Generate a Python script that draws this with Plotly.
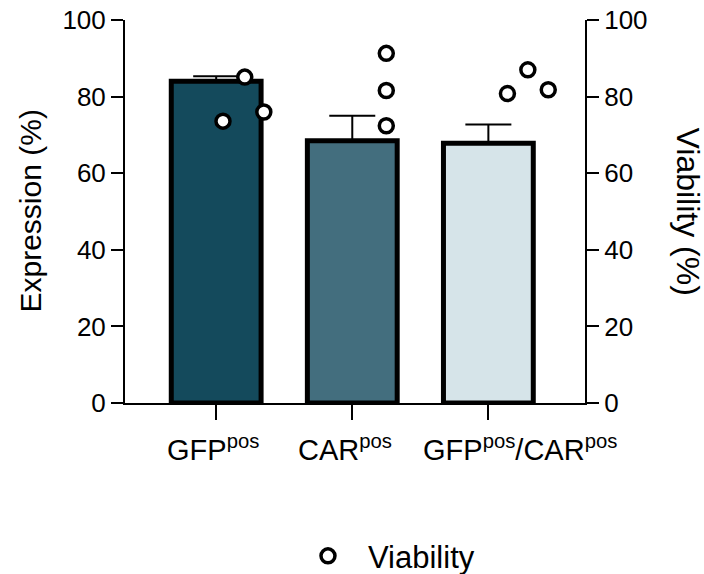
import plotly.graph_objects as go

categories = ["GFP<sup>pos</sup>", "CAR<sup>pos</sup>", "GFP<sup>pos</sup>/CAR<sup>pos</sup>"]
expression = [84.0, 68.5, 67.8]
expression_err = [1.3, 6.5, 4.9]
bar_colors = ["#144a5c", "#436e7e", "#d6e4e9"]

viability_group = [0, 0, 0, 1, 1, 1, 2, 2, 2]
viability_jitter = [0.05, 0.21, 0.35, 0.25, 0.25, 0.25, 0.14, 0.29, 0.44]
viability = [73.6, 85.1, 76.0, 91.3, 81.6, 72.4, 80.8, 87.0, 81.8]
y_ticks = [0, 20, 40, 60, 80, 100]

FONT = "Liberation Sans, Arial, sans-serif"
label_xshift = [-3, -7, 32]  # label placement (px) as in the reference

fig = go.Figure()
fig.add_trace(go.Bar(
    x=list(range(len(categories))), y=expression, width=0.66,
    marker=dict(color=bar_colors, line=dict(color="black", width=5)),
    error_y=dict(type="data", array=expression_err, arrayminus=[0] * len(expression),
                 symmetric=False, thickness=2, width=23, color="black"),
    showlegend=False, yaxis="y",
))
fig.add_trace(go.Scatter(
    x=[g + j for g, j in zip(viability_group, viability_jitter)], y=viability,
    mode="markers", name="Viability", yaxis="y2",
    marker=dict(symbol="circle", size=14, color="white", line=dict(color="black", width=3.5)),
))

axis_common = dict(range=[0, 100.01], tickmode="array", tickvals=y_ticks,
                   showline=True, linecolor="black", linewidth=2,
                   ticks="outside", ticklen=12, tickwidth=2, tickcolor="black",
                   showgrid=False, zeroline=False, automargin=False,
                   ticklabeloverflow="allow",
                   tickfont=dict(family=FONT, size=26, color="black"))

annotations = [
    dict(text="Expression (%)", xref="paper", yref="paper", x=0, y=0.5, xshift=-95,
         xanchor="center", yanchor="middle", textangle=-90, showarrow=False,
         font=dict(family=FONT, size=30, color="black")),
    dict(text="Viability (%)", xref="paper", yref="paper", x=1, y=0.5, xshift=103,
         xanchor="center", yanchor="middle", textangle=90, showarrow=False,
         font=dict(family=FONT, size=32, color="black")),
]
for i, (lab, dx) in enumerate(zip(categories, label_xshift)):
    annotations.append(dict(text=lab, xref="x", yref="paper", x=i, y=0, xshift=dx, yshift=-25,
                            xanchor="center", yanchor="top", showarrow=False,
                            font=dict(family=FONT, size=29, color="black")))

fig.update_layout(
    width=704, height=574,
    margin=dict(l=125, r=119, t=20, b=171, autoexpand=False),
    plot_bgcolor="white", paper_bgcolor="white",
    font=dict(family=FONT, color="black"),
    xaxis=dict(range=[-0.67, 2.71], tickvals=list(range(len(categories))),
               showticklabels=False,
               showline=True, linecolor="black", linewidth=2, ticks="outside", ticklen=15,
               tickwidth=2, tickcolor="black", showgrid=False, zeroline=False,
               automargin=False),
    yaxis=dict(**axis_common),
    yaxis2=dict(**axis_common, overlaying="y", side="right"),
    legend=dict(orientation="h", x=0.563, xanchor="center", y=-0.40, yanchor="middle",
                itemwidth=70,
                font=dict(family=FONT, size=31, color="black")),
    annotations=annotations,
)

fig.write_html("out.html", config={"displayModeBar": False},
               post_script="document.body.style.margin='0px';document.body.style.overflow='hidden';")
